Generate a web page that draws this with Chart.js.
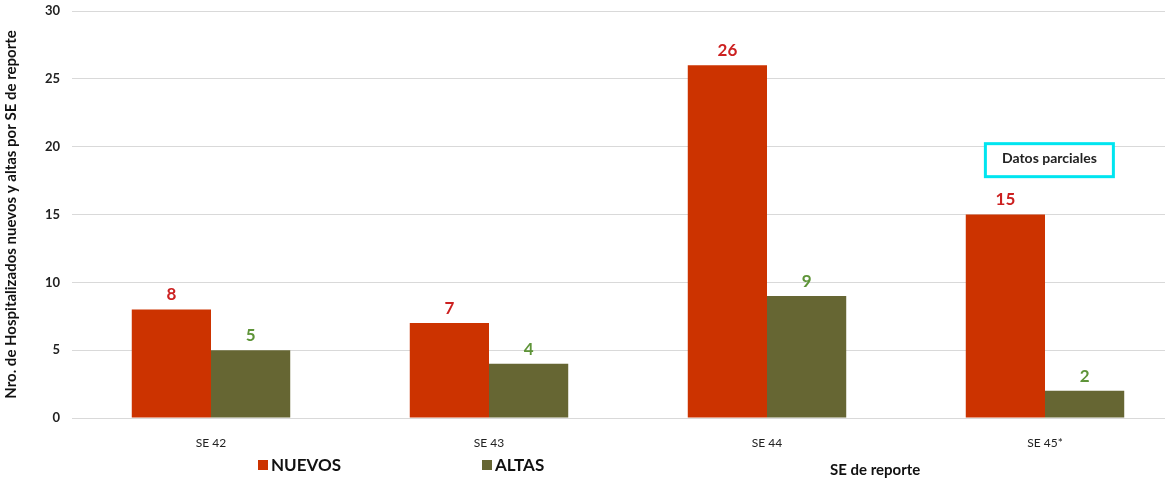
<!DOCTYPE html>
<html>
<head>
<meta charset="utf-8">
<script src="https://cdn.jsdelivr.net/npm/chart.js@4.4.0/dist/chart.umd.min.js"></script>
<style>
  html, body { margin: 0; padding: 0; background: #fff; overflow: hidden; }
  #wrap { width: 1190px; height: 483px; }
</style>
</head>
<body>
<div id="wrap"><canvas id="graphCanvas" width="1190" height="483"></canvas></div>
<script>
var categories = ['SE 42', 'SE 43', 'SE 44', 'SE 45*'];
var nuevos = [8, 7, 26, 15];
var altas = [5, 4, 9, 2];
var seriesNames = ['NUEVOS', 'ALTAS'];
var yTicks = [0, 5, 10, 15, 20, 25, 30];

var FONT = 'Lato, "Open Sans", sans-serif';

var overlayPlugin = {
  id: 'overlay',
  afterDatasetsDraw: function(chart) {
    var ctx = chart.ctx;
    var labelColors = ['#cc2020', '#5e9438'];
    ctx.save();
    ctx.font = 'bold 17px ' + FONT;
    ctx.textAlign = 'center';
    ctx.textBaseline = 'bottom';
    chart.data.datasets.forEach(function(ds, i) {
      var meta = chart.getDatasetMeta(i);
      ctx.fillStyle = labelColors[i];
      meta.data.forEach(function(bar, j) {
        ctx.fillText(ds.data[j], bar.x, bar.y - 6);
      });
    });

    // partial data note above last category
    var last = chart.getDatasetMeta(0).data[3];
    var yScale = chart.scales.y;
    var bx = last.x - 20, by = yScale.getPixelForValue(20) - 3;
    ctx.strokeStyle = '#00e5f0';
    ctx.lineWidth = 3;
    ctx.fillStyle = '#fff';
    ctx.fillRect(bx, by, 128, 33);
    ctx.strokeRect(bx, by, 128, 33);
    ctx.fillStyle = '#222';
    ctx.font = 'bold 14px ' + FONT;
    ctx.textBaseline = 'middle';
    ctx.fillText('Datos parciales', bx + 64, by + 15);

    // legend
    ctx.textAlign = 'left';
    ctx.font = 'bold 17px ' + FONT;
    var legendX = [258, 482];
    chart.data.datasets.forEach(function(ds, i) {
      ctx.fillStyle = ds.backgroundColor;
      ctx.fillRect(legendX[i], 460, 10, 10);
      ctx.fillStyle = '#111';
      ctx.fillText(seriesNames[i], legendX[i] + 13, 466);
    });

    // x axis title
    ctx.font = 'bold 15px ' + FONT;
    ctx.fillText('SE de reporte', 830, 470);
    ctx.restore();
  }
};

var canvas = document.getElementById('graphCanvas').getContext('2d');

var chart = new Chart(canvas, {
  type: 'bar',
  data: {
    labels: categories,
    datasets: [{
      label: seriesNames[0],
      backgroundColor: '#cc3300',
      data: nuevos,
      categoryPercentage: 0.57,
      barPercentage: 1.0
    }, {
      label: seriesNames[1],
      backgroundColor: '#666633',
      data: altas,
      categoryPercentage: 0.57,
      barPercentage: 1.0
    }]
  },
  options: {
    responsive: false,
    animation: false,
    layout: { padding: { top: 11, right: 6, left: 0, bottom: 0 } },
    plugins: {
      legend: { display: false },
      tooltip: { enabled: false }
    },
    scales: {
      x: {
        grid: { display: false },
        border: { display: false },
        ticks: { color: '#222', font: { family: FONT, size: 12 }, padding: 10 },
        afterFit: function(scale) { scale.height = 65; }
      },
      y: {
        min: 0,
        max: 30,
        afterBuildTicks: function(scale) {
          scale.ticks = yTicks.map(function(v) { return { value: v }; });
        },
        grid: { color: '#d9d9d9', lineWidth: 1, drawTicks: false },
        border: { display: false },
        ticks: { color: '#222', font: { family: FONT, size: 13, weight: 'bold' }, padding: 12 },
        title: {
          display: true,
          text: 'Nro. de Hospitalizados nuevos y altas por SE de reporte',
          color: '#111',
          font: { family: FONT, size: 15, weight: 'bold' },
          padding: { top: 2, bottom: 0 }
        },
        afterFit: function(scale) {
          scale.width = 72;
          scale.paddingTop = 0;
          scale.paddingBottom = 0;
        }
      }
    }
  },
  plugins: [overlayPlugin]
});
</script>
</body>
</html>
